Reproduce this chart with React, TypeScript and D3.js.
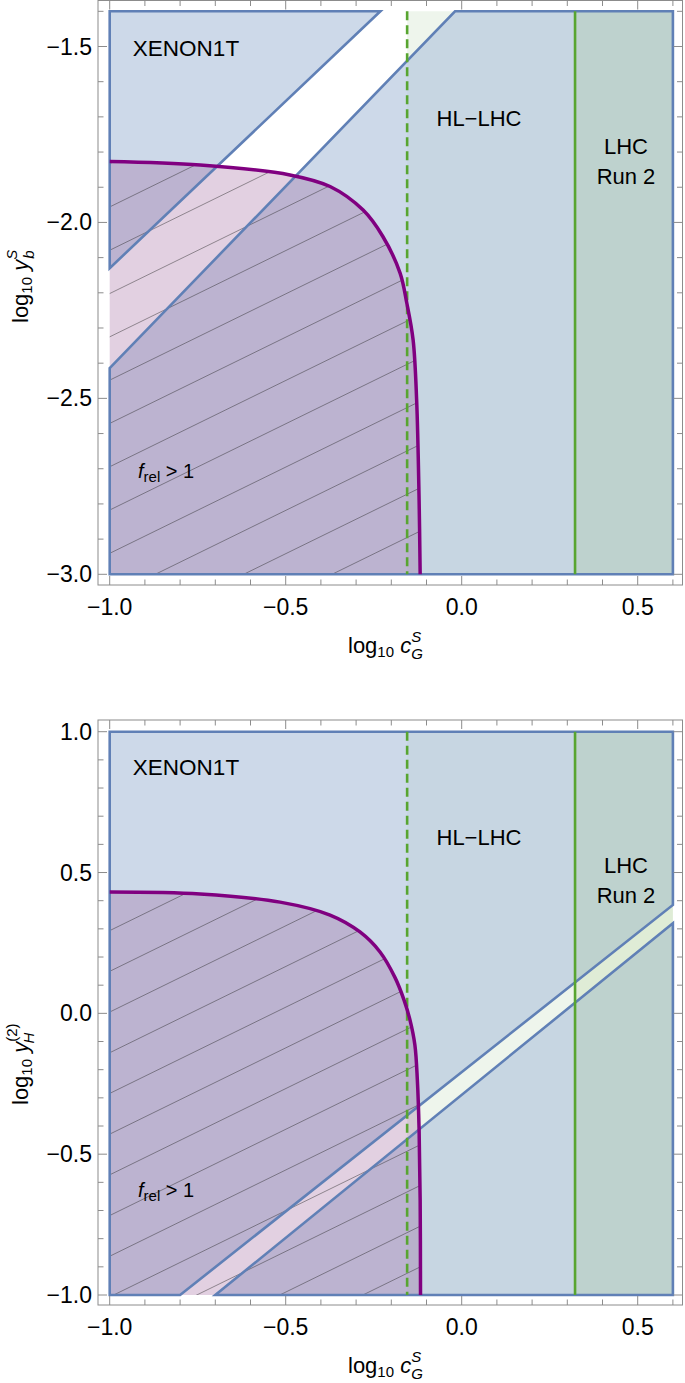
import React from 'react';
import * as d3 from 'd3';

// ---------- data ----------
const X_MAJOR = [-1.0, -0.5, 0.0, 0.5];
const X_MINOR = [-1.0, -0.9, -0.8, -0.7, -0.6, -0.5, -0.4, -0.3, -0.2, -0.1, 0.0, 0.1, 0.2, 0.3, 0.4, 0.5, 0.6];

const TOP_Y_MAJOR = [-3.0, -2.5, -2.0, -1.5];
const TOP_Y_MINOR = [-3.0, -2.9, -2.8, -2.7, -2.6, -2.5, -2.4, -2.3, -2.2, -2.1, -2.0, -1.9, -1.8, -1.7, -1.6, -1.5, -1.4];
const BOT_Y_MAJOR = [-1.0, -0.5, 0.0, 0.5, 1.0];
const BOT_Y_MINOR = [-1.0, -0.9, -0.8, -0.7, -0.6, -0.5, -0.4, -0.3, -0.2, -0.1, 0.0, 0.1, 0.2, 0.3, 0.4, 0.5, 0.6, 0.7, 0.8, 0.9, 1.0];

const X_MIN = -1.0;
const X_MAX = 0.6;
const TOP_Y_MIN = -3.0;
const TOP_Y_MAX = -1.4;
const BOT_Y_MIN = -1.0;
const BOT_Y_MAX = 1.0;

const HL_LHC_X = -0.155;
const LHC_RUN2_X = 0.322;

// XENON1T excluded regions (two pieces, separated by the allowed band)
const TOP_XENON_A: [number, number][] = [[-1.0, -2.13], [-1.0, -1.4], [-0.231, -1.4]];
const TOP_XENON_B: [number, number][] = [[-1.0, -2.414], [-0.019, -1.4], [0.6, -1.4], [0.6, -3.0], [-1.0, -3.0]];
const BOT_XENON_A: [number, number][] = [[-1.0, -1.0], [-0.8, -1.0], [0.6, 0.385], [0.6, 1.0], [-1.0, 1.0]];
const BOT_XENON_B: [number, number][] = [[-0.7, -1.0], [0.6, -1.0], [0.6, 0.32]];

// f_rel = 1 contours
const TOP_FREL: [number, number][] = [
  [-1.0, -1.827], [-0.743, -1.837], [-0.488, -1.865], [-0.374, -1.898], [-0.28, -1.965],
  [-0.224, -2.04], [-0.175, -2.144], [-0.156, -2.229], [-0.138, -2.334], [-0.128, -2.505],
  [-0.121, -2.789], [-0.118, -3.0],
];
const BOT_FREL: [number, number][] = [
  [-1.0, 0.431], [-0.743, 0.424], [-0.516, 0.395], [-0.374, 0.349], [-0.289, 0.289],
  [-0.232, 0.218], [-0.189, 0.126], [-0.164, 0.048], [-0.147, -0.023], [-0.133, -0.112],
  [-0.126, -0.236], [-0.121, -0.414], [-0.118, -0.662], [-0.117, -1.0],
];

// ---------- styles ----------
const FONT = "'Liberation Sans', Arial, Helvetica, sans-serif";
const BLUE_FILL = 'rgb(178,196,221)';
const BLUE_LINE = 'rgb(96,128,182)';
const HL_FILL = 'rgb(110,170,90)';
const LHC_FILL = 'rgb(139,186,93)';
const GREEN_LINE = 'rgb(88,165,48)';
const PURPLE_FILL = 'rgb(139,67,135)';
const PURPLE_LINE = 'rgb(128,0,128)';
const FRAME = 'rgb(140,140,140)';

const FRAME_LEFT = 98;
const FRAME_RIGHT = 682.5;

const xScale = d3.scaleLinear().domain([-1.0, 0.5]).range([109.7, 637.7]);

type PanelProps = {
  id: string;
  frameTop: number;
  frameBottom: number;
  yScale: d3.ScaleLinear<number, number>;
  yMin: number;
  yMax: number;
  yMajor: number[];
  yMinor: number[];
  xenonA: [number, number][];
  xenonB: [number, number][];
  frel: [number, number][];
  hatchY0: number;
  hatchSp: number;
  yLabel: 'b' | 'H';
  yLabelStart: number;
};

const fmt = d3.format('.1f');

function Panel(p: PanelProps) {
  const y = p.yScale;
  const poly = (pts: [number, number][]) =>
    'M' + pts.map(([a, b]) => `${xScale(a)},${y(b)}`).join('L') + 'Z';
  const curveGen = d3
    .line<[number, number]>()
    .x((d) => xScale(d[0]))
    .y((d) => y(d[1]))
    .curve(d3.curveCatmullRom.alpha(0.5));
  const curvePath = curveGen(p.frel) || '';
  const purpleRegion = curvePath + `L${xScale(X_MIN)},${y(p.yMin)}Z`;

  const rect = (x0: number, x1: number) =>
    `M${xScale(x0)},${y(p.yMax)}L${xScale(x1)},${y(p.yMax)}L${xScale(x1)},${y(p.yMin)}L${xScale(x0)},${y(p.yMin)}Z`;

  const hatch: JSX.Element[] = [];
  for (let k = -20; k <= 20; k++) {
    const yy = p.hatchY0 + k * p.hatchSp;
    const x1 = FRAME_LEFT;
    const x2 = FRAME_RIGHT;
    hatch.push(
      <line key={k} x1={x1} y1={yy + 0.49 * (110 - x1)} x2={x2} y2={yy + 0.49 * (110 - x2)}
        stroke="rgba(40,40,40,0.5)" strokeWidth={0.9} />
    );
  }

  const ft = p.frameTop;
  const fb = p.frameBottom;
  const ticks: JSX.Element[] = [];
  X_MINOR.forEach((v, i) => {
    const major = X_MAJOR.some((m) => Math.abs(m - v) < 1e-9);
    const len = major ? 9 : 5.5;
    const xx = xScale(v);
    ticks.push(<line key={'xb' + i} x1={xx} x2={xx} y1={fb} y2={fb - len} stroke={FRAME} strokeWidth={1} />);
    ticks.push(<line key={'xt' + i} x1={xx} x2={xx} y1={ft} y2={ft + len} stroke={FRAME} strokeWidth={1} />);
  });
  p.yMinor.forEach((v, i) => {
    const major = p.yMajor.some((m) => Math.abs(m - v) < 1e-9);
    const len = major ? 9 : 5.5;
    const yy = y(v);
    ticks.push(<line key={'yl' + i} x1={FRAME_LEFT} x2={FRAME_LEFT + len} y1={yy} y2={yy} stroke={FRAME} strokeWidth={1} />);
    ticks.push(<line key={'yr' + i} x1={FRAME_RIGHT} x2={FRAME_RIGHT - len} y1={yy} y2={yy} stroke={FRAME} strokeWidth={1} />);
  });

  const clipId = 'clip-' + p.id;
  const yTitleX = 28;

  return (
    <g>
      <defs>
        <clipPath id={clipId}>
          <path d={purpleRegion} />
        </clipPath>
      </defs>
      {/* HL-LHC region */}
      <path d={rect(HL_LHC_X, X_MAX)} fill={HL_FILL} fillOpacity={0.117} />
      {/* XENON1T */}
      <path d={poly(p.xenonA)} fill={BLUE_FILL} fillOpacity={0.65} />
      <path d={poly(p.xenonB)} fill={BLUE_FILL} fillOpacity={0.65} />
      {/* LHC Run 2 */}
      <path d={rect(LHC_RUN2_X, X_MAX)} fill={LHC_FILL} fillOpacity={0.15} />
      {/* f_rel > 1 */}
      <path d={purpleRegion} fill={PURPLE_FILL} fillOpacity={0.25} />
      <g clipPath={`url(#${clipId})`}>{hatch}</g>
      {/* XENON borders */}
      <path d={poly(p.xenonA)} fill="none" stroke={BLUE_LINE} strokeWidth={2.6} />
      <path d={poly(p.xenonB)} fill="none" stroke={BLUE_LINE} strokeWidth={2.6} />
      {/* LHC lines */}
      <line x1={xScale(HL_LHC_X)} x2={xScale(HL_LHC_X)} y1={y(p.yMax)} y2={y(p.yMin)}
        stroke={GREEN_LINE} strokeWidth={2.6} strokeDasharray="9,5" />
      <line x1={xScale(LHC_RUN2_X)} x2={xScale(LHC_RUN2_X)} y1={y(p.yMax)} y2={y(p.yMin)}
        stroke={GREEN_LINE} strokeWidth={2.6} />
      {/* f_rel = 1 */}
      <path d={curvePath} fill="none" stroke={PURPLE_LINE} strokeWidth={3.5} />
      {/* frame */}
      <rect x={FRAME_LEFT} y={ft} width={FRAME_RIGHT - FRAME_LEFT} height={fb - ft} fill="none" stroke={FRAME} strokeWidth={1} />
      {ticks}
      {/* tick labels */}
      {X_MAJOR.map((v) => (
        <text key={'xl' + v} x={xScale(v)} y={fb + 30} textAnchor="middle" fontSize={23} fontFamily={FONT}>{fmt(v)}</text>
      ))}
      {p.yMajor.map((v) => (
        <text key={'ylab' + v} x={92} y={y(v) + 8} textAnchor="end" fontSize={23} fontFamily={FONT}>{fmt(v)}</text>
      ))}
      {/* region labels */}
      <text x={186} y={ft + 55} textAnchor="middle" fontSize={22.5} fontFamily={FONT}>XENON1T</text>
      <text x={479} y={ft + 125} textAnchor="middle" fontSize={22} fontFamily={FONT}>HL−LHC</text>
      <text x={626} y={ft + 153} textAnchor="middle" fontSize={22} fontFamily={FONT}>LHC</text>
      <text x={626} y={ft + 183} textAnchor="middle" fontSize={22} fontFamily={FONT}>Run 2</text>
      <text x={138} y={ft + 477} fontSize={20} fontFamily={FONT}>
        <tspan fontStyle="italic">f</tspan>
        <tspan fontSize={15} dy={4}>rel</tspan>
        <tspan dy={-4}> &gt; 1</tspan>
      </text>
      {/* x title */}
      <text x={348} y={fb + 68} fontSize={22} fontFamily={FONT}>
        log<tspan fontSize={15} dy={4}>10</tspan>
        <tspan dy={-4}> </tspan>
        <tspan fontStyle="italic">c</tspan>
        <tspan fontStyle="italic" fontSize={15} dy={-11}>S</tspan>
        <tspan fontStyle="italic" fontSize={15} dx={-10} dy={17}>G</tspan>
      </text>
      {/* y title */}
      <text transform={`translate(${yTitleX},${p.yLabelStart}) rotate(-90)`} fontSize={22} fontFamily={FONT}>
        log<tspan fontSize={15} dy={4}>10</tspan>
        <tspan dy={-4}> </tspan>
        <tspan fontStyle="italic">y</tspan>
        {p.yLabel === 'b' ? (
          <>
            <tspan fontStyle="italic" fontSize={15} dy={-11}>S</tspan>
            <tspan fontStyle="italic" fontSize={15} dx={-9} dy={17}>b</tspan>
          </>
        ) : (
          <>
            <tspan fontSize={15} dy={-11}>(2)</tspan>
            <tspan fontStyle="italic" fontSize={15} dx={-20} dy={17}>H</tspan>
          </>
        )}
      </text>
    </g>
  );
}

export default function App() {
  const topY = d3.scaleLinear().domain([-3.0, -1.5]).range([574.3, 46.5]);
  const botY = d3.scaleLinear().domain([-1.0, 1.0]).range([1295, 731.7]);
  return (
    <svg width={685} height={1383} style={{ position: 'absolute', left: 0, top: 0, background: 'white' }}>
      <rect x={0} y={0} width={685} height={1383} fill="white" />
      <Panel id="top" frameTop={0.5} frameBottom={585} yScale={topY} yMin={TOP_Y_MIN} yMax={TOP_Y_MAX}
        yMajor={TOP_Y_MAJOR} yMinor={TOP_Y_MINOR} xenonA={TOP_XENON_A} xenonB={TOP_XENON_B}
        frel={TOP_FREL} hatchY0={423.3} hatchSp={43.3} yLabel="b" yLabelStart={323} />
      <Panel id="bot" frameTop={720} frameBottom={1305} yScale={botY} yMin={BOT_Y_MIN} yMax={BOT_Y_MAX}
        yMajor={BOT_Y_MAJOR} yMinor={BOT_Y_MINOR} xenonA={BOT_XENON_A} xenonB={BOT_XENON_B}
        frel={BOT_FREL} hatchY0={1093.3} hatchSp={40.7} yLabel="H" yLabelStart={1105} />
    </svg>
  );
}
